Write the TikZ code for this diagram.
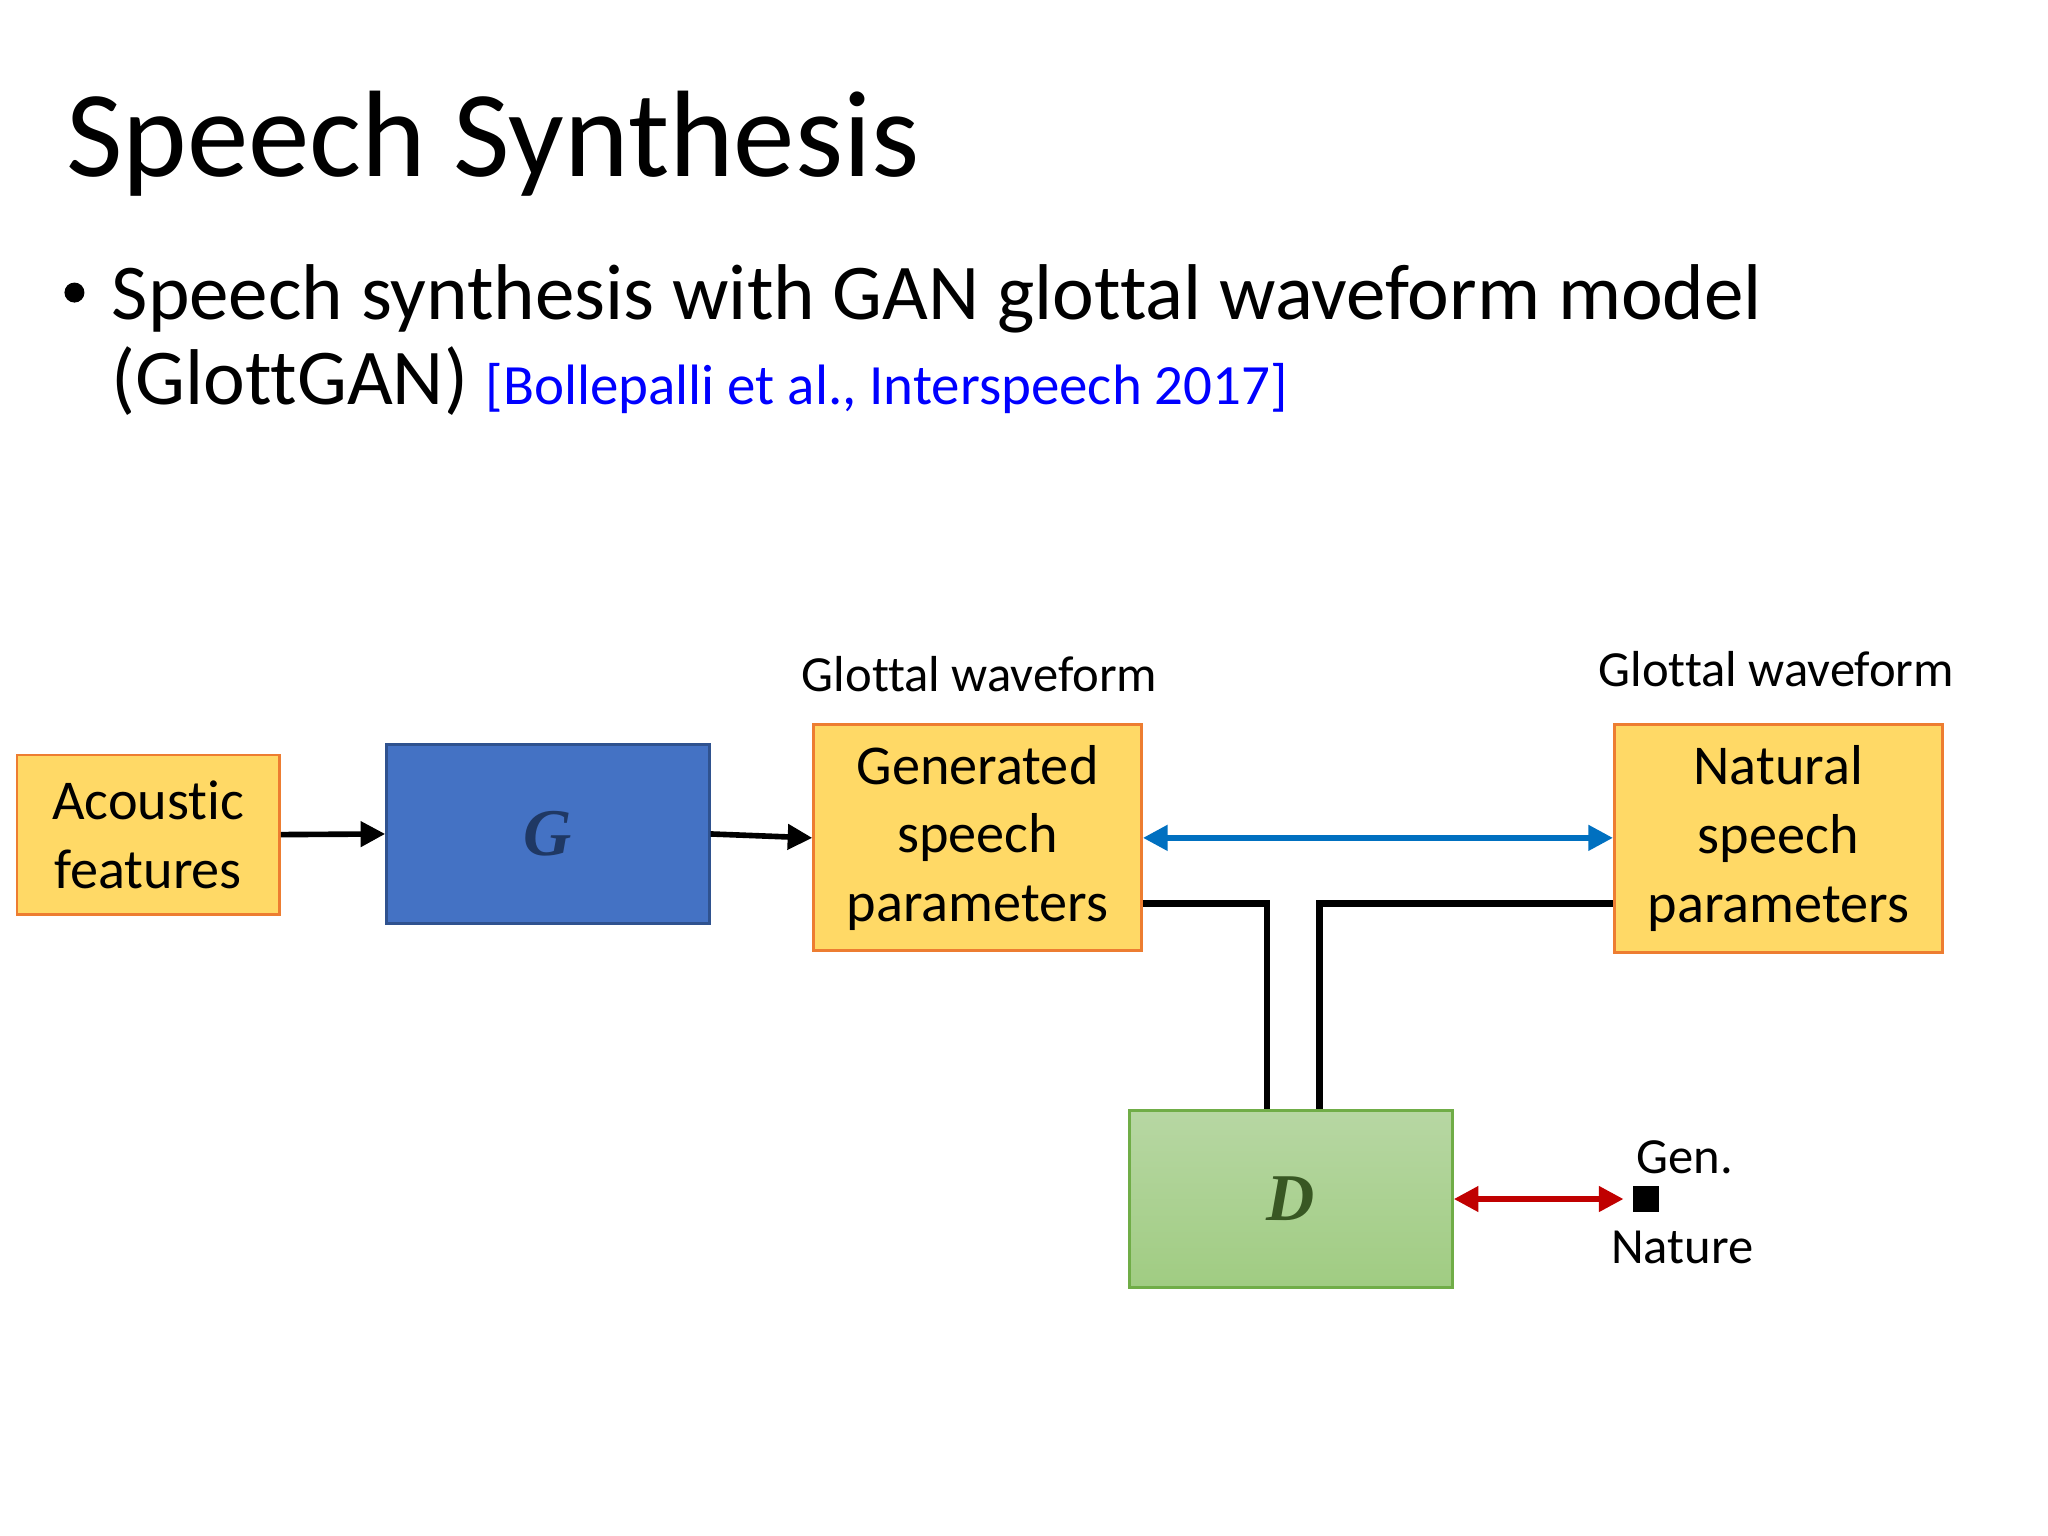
\documentclass[tikz,border=0pt]{standalone}
\usepackage{fontspec}
\setmainfont{Carlito}[Ligatures=NoCommon]
\newfontfamily\serifit{Liberation Serif}
\usetikzlibrary{arrows.meta}
\definecolor{ybox}{HTML}{FFD966}
\definecolor{obord}{HTML}{ED7D31}
\begin{document}
\begin{tikzpicture}[x=0.013062cm,y=-0.013062cm,
  yb/.style={draw=obord,fill=ybox,line width=0.8pt,align=center,font=\fontsize{16}{19.5}\selectfont},
  lbl/.style={font=\fontsize{14.4}{17}\selectfont},
  arr/.style={line width=1.6pt,-{Triangle[length=7pt,width=7pt]}},
  con/.style={line width=1.9pt}]
\useasboundingbox[fill=white] (0,0) rectangle (1568,1176);
\node[anchor=base west,font=\fontsize{35}{40}\selectfont,inner sep=0] (title) at (50,135) {Speech Synthesis};
\node[fill=black,circle,inner sep=0,minimum size=0.2cm] (b) at (57,224) {};
\node[anchor=base west,font=\fontsize{22.5}{27}\selectfont,inner sep=0] (l1) at (85,245) {Speech synthesis with GAN glottal waveform model};
\node[anchor=base west,font=\fontsize{22.5}{27}\selectfont,inner sep=0] (l2) at (85,310) {(GlottGAN) {\color{blue}\fontsize{16.2}{19}\selectfont [Bollepalli et al., Interspeech 2017]}};

\node[yb,minimum width=201*0.013062cm,minimum height=122*0.013062cm] (ac) at (113.5,639) {Acoustic\\features};
\node[draw={rgb,255:red,47;green,82;blue,143},fill={rgb,255:red,68;green,114;blue,196},line width=0.8pt,minimum width=247*0.013062cm,minimum height=137*0.013062cm,font=\serifit\bfseries\itshape\fontsize{19}{22}\selectfont,text={rgb,255:red,31;green,56;blue,100}] (g) at (419.5,638.5) {G};
\node[yb,minimum width=251*0.013062cm,minimum height=173*0.013062cm] (gen) at (748.5,641.5) {Generated\\speech\\parameters};
\node[yb,minimum width=251*0.013062cm,minimum height=174*0.013062cm] (nat) at (1361.5,642) {Natural\\speech\\parameters};
\node[draw={rgb,255:red,112;green,173;blue,71},top color={rgb,255:red,183;green,215;blue,163},bottom color={rgb,255:red,160;green,204;blue,130},line width=0.8pt,minimum width=247*0.013062cm,minimum height=136*0.013062cm,font=\serifit\bfseries\itshape\fontsize{19}{22}\selectfont,text={rgb,255:red,56;green,87;blue,35}] (d) at (988.5,918) {D};

\node[lbl] (gw1) at (750,516) {Glottal waveform};
\node[lbl] (gw2) at (1360,512) {Glottal waveform};

\draw[arr] (ac.east) -- (g.west);
\draw[arr] (g.east) -- (gen.west);
\draw[line width=1.6pt,{Triangle[length=7pt,width=7pt]}-{Triangle[length=7pt,width=7pt]},color={rgb,255:red,0;green,112;blue,192}] (gen.east) -- (nat.west|-gen.east);
\draw[con] (gen.east|-0,692) -| (d.north-|970,0);
\draw[con] (nat.west|-0,692) -| (d.north-|1010,0);

\node[fill=black,minimum size=20*0.013062cm,inner sep=0] (sq) at (1260,918) {};
\coordinate (re) at (1243,918);
\draw[line width=1.6pt,{Triangle[length=7pt,width=7pt]}-{Triangle[length=7pt,width=7pt]},color={rgb,255:red,192;green,0;blue,0}] (d.east) -- (re);
\node[lbl] (gn) at (1290,886) {Gen.};
\node[lbl] (nt) at (1288,955) {Nature};
\end{tikzpicture}
\end{document}
